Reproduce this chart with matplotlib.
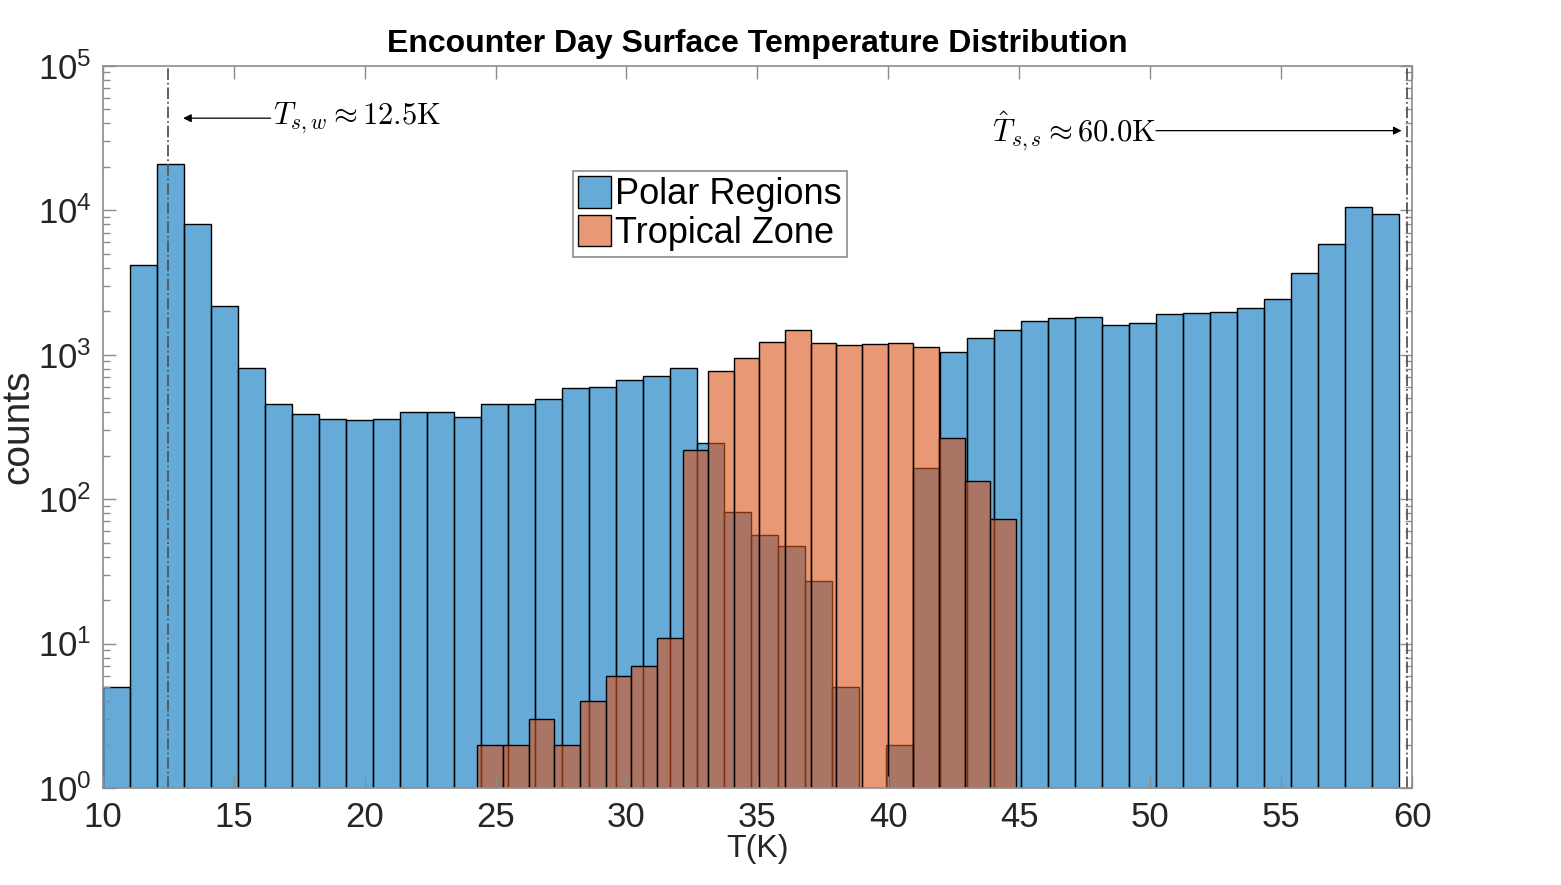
import numpy as np
import matplotlib
matplotlib.use("Agg")
import matplotlib.pyplot as plt

plt.rcParams['font.family'] = ['Liberation Sans', 'DejaVu Sans']

# histogram bins (K) and counts
polar_start, polar_width = 10.0, 1.031
polar_counts = [5, 4170, 20850, 8010, 2170, 806, 454, 387, 358, 352,
                358, 400, 400, 369, 454, 454, 492, 587, 596, 666,
                710, 806, 244, 81, 56, 47, 27, 5, 0, 2,
                164, 1040, 1300, 1478, 1706, 1790, 1820, 1600, 1652, 1906,
                1937, 1968, 2098, 2422, 3680, 5820, 10500, 9400]

trop_start, trop_width = 24.31, 0.979
trop_counts = [2, 2, 3, 2, 4, 6, 7, 11, 218, 769,
               946, 1221, 1478, 1202, 1164, 1183, 1202, 1127, 264, 133, 73]

T_sw = 12.5
T_ss_line = 59.8
labels = ['Polar Regions', 'Tropical Zone']

blue = (0.0, 0.447, 0.741, 0.6)
orange = (0.85, 0.325, 0.098, 0.6)

fig = plt.figure(figsize=(15.61, 8.85), dpi=100)
ax = fig.add_axes([0.0658, 0.1096, 0.9046 - 0.0658, 0.9258 - 0.1096])

p_left = polar_start + polar_width * np.arange(len(polar_counts))
t_left = trop_start + trop_width * np.arange(len(trop_counts))

ax.bar(p_left, polar_counts, width=polar_width, align='edge',
       facecolor=blue, edgecolor='k', linewidth=1.0, label=labels[0])
ax.bar(t_left, trop_counts, width=trop_width, align='edge',
       facecolor=orange, edgecolor='k', linewidth=1.0, label=labels[1])

ax.set_yscale('log')
ax.set_xlim(10, 60)
ax.set_ylim(1, 1e5)
ax.set_xticks(np.arange(10, 61, 5))

ax.axvline(T_sw, color='#555555', linestyle='-.', linewidth=1.3)
ax.axvline(T_ss_line, color='#555555', linestyle='-.', linewidth=1.3)

# annotations
ax.annotate('', xy=(13.07, 43300), xytext=(16.41, 43300),
            arrowprops=dict(arrowstyle='-|>', color='k', lw=0.9,
                            mutation_scale=12, shrinkA=0, shrinkB=0))
ax.text(16.5, 43300, r'$T_{s,w} \approx 12.5\mathrm{K}$', fontsize=22,
        va='center', ha='left', math_fontfamily='cm')
ax.annotate('', xy=(59.6, 35500), xytext=(50.22, 35500),
            arrowprops=dict(arrowstyle='-|>', color='k', lw=0.9,
                            mutation_scale=12, shrinkA=0, shrinkB=0))
ax.text(50.22, 35500, r'$\hat{T}_{s,s} \approx 60.0\mathrm{K}$', fontsize=22,
        va='center', ha='right', math_fontfamily='cm')

ax.set_title('Encounter Day Surface Temperature Distribution',
             fontsize=23, fontweight='bold', pad=10)
ax.set_xlabel('T(K)', fontsize=23, color='#262626', labelpad=0)
ax.set_ylabel('counts', fontsize=28, color='#262626', labelpad=1)

for s in ax.spines.values():
    s.set_color('#8c8c8c')
    s.set_linewidth(1.2)
ax.tick_params(which='both', direction='in', top=True, right=True,
               color='#8c8c8c', labelcolor='#262626', labelsize=25)
ax.tick_params(which='major', length=9, width=1.0)
ax.tick_params(which='minor', length=5, width=1.0)
ax.tick_params(axis='x', which='minor', bottom=False, top=False)
ax.tick_params(axis='x', pad=9)
ax.tick_params(axis='y', pad=8)

leg = ax.legend(loc='upper left', bbox_to_anchor=(0.3669, 0.8068),
                bbox_transform=fig.transFigure, borderaxespad=0,
                fontsize=26, fancybox=False, framealpha=1,
                edgecolor='#8c8c8c', handlelength=0.9, handleheight=0.95,
                handletextpad=0.12, borderpad=0.15, labelspacing=0.08)
leg.get_frame().set_linewidth(1.2)

fig.savefig('out.png', dpi=100)
